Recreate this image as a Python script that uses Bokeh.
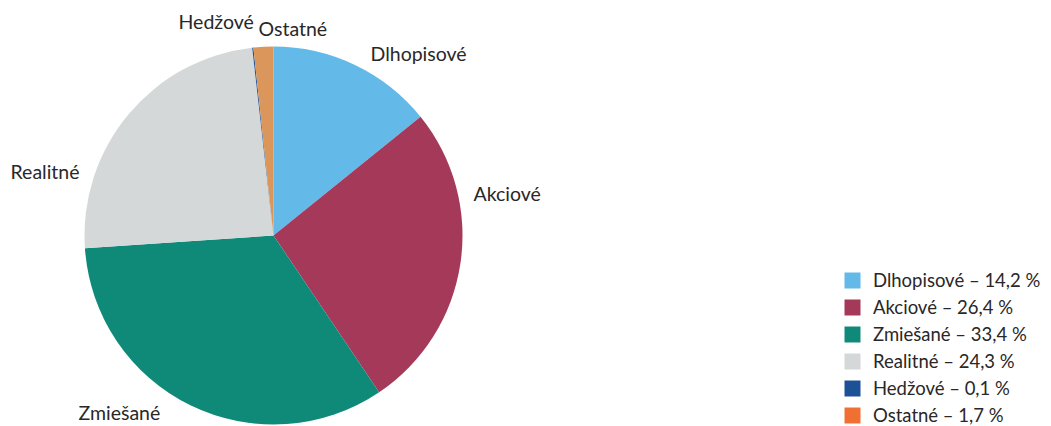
import math
from bokeh.plotting import figure
from bokeh.models import Range1d, Legend, LegendItem, ColumnDataSource
from bokeh.core.properties import value
from bokeh.embed import file_html
from bokeh.resources import INLINE

# ---- data ----
categories = ["Dlhopisové", "Akciové", "Zmiešané", "Realitné", "Hedžové", "Ostatné"]
shares = [14.2, 26.4, 33.4, 24.3, 0.1, 1.7]
share_texts = ["14,2", "26,4", "33,4", "24,3", "0,1", "1,7"]

# ---- styles ----
pie_colors = ["#63b9e8", "#a5395a", "#108a78", "#d5d8d8", "#1f4f95", "#da965b"]
legend_colors = ["#63b9e8", "#a5395a", "#108a78", "#d5d8d8", "#1c5196", "#f07033"]
TEXT_COLOR = "#2a2728"
FONT = "Lato"
LABEL_SIZE = "19.5px"
LEGEND_SIZE = "18.5px"

# ---- layout (screen pixels of the 1051x426 page) ----
PAGE_W, PAGE_H = 1051, 426
CX, CY, R = 273, 235, 189
# left / vertical anchor of each slice label (screen px)
label_anchor = [(370, 53), (473, 193), (78, 412), (10, 171), (178, 21), (258, 28)]


def ys(y):
    return PAGE_H - y


p = figure(width=PAGE_W, height=PAGE_H, x_range=Range1d(0, PAGE_W), y_range=Range1d(0, PAGE_H),
           output_backend="svg", toolbar_location=None, min_border=0,
           x_axis_location=None, y_axis_location=None)
p.grid.visible = False
p.outline_line_color = None

total = sum(shares)
starts, ends = [], []
acc = 0.0
for s in shares:
    starts.append(math.pi / 2 - 2 * math.pi * acc / total)
    acc += s
    ends.append(math.pi / 2 - 2 * math.pi * acc / total)

src = ColumnDataSource(dict(start=starts, end=ends, color=pie_colors, cat=categories))
p.wedge(x=CX, y=ys(CY), radius=R, start_angle="start", end_angle="end",
        direction="clock", fill_color="color", line_color=None, source=src)

lab = ColumnDataSource(dict(x=[a[0] for a in label_anchor], y=[ys(a[1]) for a in label_anchor],
                            text=categories))
p.text(x="x", y="y", text="text", source=lab, text_font=value(FONT), text_font_size=LABEL_SIZE,
       text_color=TEXT_COLOR, text_align="left", text_baseline="alphabetic")

items = []
for cat, st, col in zip(categories, share_texts, legend_colors):
    # legend swatch renderer, placed outside the visible range
    r = p.rect(x=[-100], y=[-100], width=1, height=1, fill_color=col, line_color=None)
    items.append(LegendItem(label=f"{cat} – {st} %", renderers=[r]))

legend = Legend(items=items, location=(842, 0), orientation="vertical",
                glyph_width=20, glyph_height=20, label_height=20, spacing=5,
                label_standoff=11, padding=0, margin=0,
                border_line_color=None, background_fill_alpha=0,
                label_text_font=FONT, label_text_font_size=LEGEND_SIZE,
                label_text_color=TEXT_COLOR)
p.add_layout(legend)

open("out.html", "w").write(file_html(p, INLINE))
